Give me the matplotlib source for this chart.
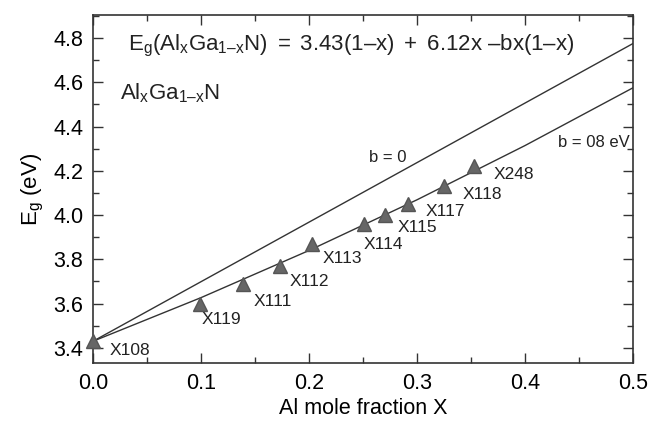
import numpy as np
import matplotlib
matplotlib.use('Agg')
import matplotlib.pyplot as plt
from matplotlib.ticker import MultipleLocator, FormatStrFormatter

plt.rcParams['font.family'] = ['Liberation Sans', 'DejaVu Sans']
plt.rcParams['mathtext.fontset'] = 'custom'
plt.rcParams['mathtext.rm'] = 'Liberation Sans'
plt.rcParams['mathtext.it'] = 'Liberation Sans'

# measured samples (Al fraction, band gap)
x_meas = [0.0, 0.099, 0.139, 0.173, 0.203, 0.251, 0.270, 0.292, 0.325, 0.353]
eg_meas = [3.43, 3.60, 3.69, 3.77, 3.87, 3.96, 4.00, 4.05, 4.13, 4.22]
samples = ['X108', 'X119', 'X111', 'X112', 'X113', 'X114', 'X115', 'X117', 'X118', 'X248']
# label offsets in pixels (dx, dy)
lab_off = [(17, -9), (2, -16), (10, -18), (10, -16), (10, -15), (0, -21),
           (13, -12), (17, -7), (19, -8), (19, -8)]

# the two curves
x_line = [0.0, 0.1, 0.2, 0.3, 0.4, 0.5]
eg_b0 = [3.43, 3.699, 3.968, 4.237, 4.506, 4.775]
eg_b08 = [3.43, 3.627, 3.840, 4.069, 4.314, 4.575]

fig = plt.figure(figsize=(6.49, 4.28), dpi=100)
ax = fig.add_axes([0.1433, 0.152, 0.832, 0.813])

ax.plot(x_line, eg_b0, color='#333333', lw=1.0)
ax.plot(x_line, eg_b08, color='#333333', lw=1.0)
ax.plot(x_meas, eg_meas, ls='none', marker='^', ms=10, color='#666666',
        markeredgecolor='#555555', clip_on=False, zorder=5)

for xi, yi, s, (dx, dy) in zip(x_meas, eg_meas, samples, lab_off):
    ax.annotate(s, (xi, yi), xytext=(dx, dy), textcoords='offset pixels',
                ha='left', va='center', fontsize=12.5, color='#222222')

ax.text(0.064, 0.91,
        r'$\mathregular{E_g(Al_xGa_{1–x}N)\ =\ 3.43(1–x)\ +\ 6.12x\ –bx(1–x)}$',
        transform=ax.transAxes, fontsize=16, va='center', ha='left', color='#222222')
ax.text(0.05, 0.775, r'$\mathregular{Al_xGa_{1–x}N}$', transform=ax.transAxes,
        fontsize=16, va='center', ha='left', color='#222222')
ax.text(0.273, 4.26, 'b = 0', fontsize=12, va='center', ha='center', color='#222222')
ax.text(0.497, 4.33, 'b = 08 eV', fontsize=12, va='center', ha='right', color='#222222')

ax.set_xlim(0, 0.5)
ax.set_ylim(3.332, 4.904)
ax.set_xticks([0.0, 0.1, 0.2, 0.3, 0.4, 0.5])
ax.set_yticks([3.4, 3.6, 3.8, 4.0, 4.2, 4.4, 4.6, 4.8])
ax.xaxis.set_minor_locator(MultipleLocator(0.05))
ax.yaxis.set_minor_locator(MultipleLocator(0.1))
ax.xaxis.set_major_formatter(FormatStrFormatter('%.1f'))
ax.yaxis.set_major_formatter(FormatStrFormatter('%.1f'))
ax.tick_params(which='both', direction='in', top=True, right=True, color='#333333')
ax.tick_params(which='major', length=7, width=1, labelsize=15.5, pad=7)
ax.tick_params(which='minor', length=4, width=1)
for sp in ax.spines.values():
    sp.set_linewidth(1.2)
    sp.set_color('#333333')

ax.set_xlabel('Al mole fraction X', fontsize=15.5, labelpad=3)
ax.set_ylabel(r'$\mathregular{E_g}$ (eV)', fontsize=16, labelpad=5)

fig.savefig('out.png', dpi=100)
